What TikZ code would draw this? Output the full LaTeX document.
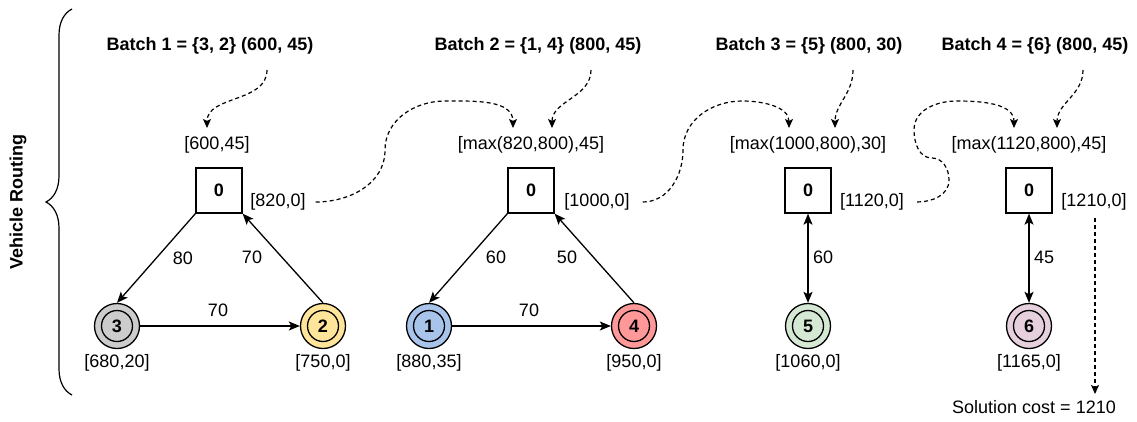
\documentclass[tikz,border=0pt]{standalone}
\usepackage{fontspec}
\setmainfont{Liberation Sans}
\usetikzlibrary{arrows.meta,decorations.pathreplacing}
\definecolor{cGray}{HTML}{CCCCCC}
\definecolor{cYellow}{HTML}{FFE599}
\definecolor{cBlue}{HTML}{A9C4EB}
\definecolor{cRed}{HTML}{FF9999}
\definecolor{cGreen}{HTML}{D5E8D4}
\definecolor{cPink}{HTML}{E6D0DE}
\tikzset{
  every node/.style={font=\fontsize{18}{21}\selectfont, inner sep=0pt},
  depot/.style={draw, line width=1.3pt, minimum width=46pt, minimum height=45pt, font=\fontsize{18}{21}\selectfont\bfseries},
  cust/.style={circle, draw, line width=1.3pt, minimum size=45pt, font=\fontsize{18}{21}\selectfont\bfseries,
    path picture={\draw[line width=1.3pt] (path picture bounding box.center) circle (15.5pt);}},
  batchlbl/.style={font=\fontsize{18}{21}\selectfont\bfseries},
  route/.style={line width=1.3pt, -{Stealth[length=11pt,width=9pt,inset=2.5pt]}},
  biroute/.style={line width=1.3pt, {Stealth[length=11pt,width=9pt,inset=2.5pt]}-{Stealth[length=11pt,width=9pt,inset=2.5pt]}},
  flow/.style={line width=1.2pt, dash pattern=on 4pt off 3pt, -{Stealth[length=9pt,width=8pt,inset=2pt]}},
}
\begin{document}
\begin{tikzpicture}[x=1pt,y=-1pt]
\useasboundingbox (0,0) rectangle (1137,421);

% brace and title
\draw[line width=1.2pt, decorate, decoration={brace, amplitude=26pt, aspect=0.5}] (72,395) -- (72,9);
\node[rotate=90, batchlbl] (title) at (18,202) {Vehicle Routing};

% batch labels
\node[batchlbl] (b1) at (210,46) {Batch 1 = \{3, 2\} (600, 45)};
\node[batchlbl] (b2) at (538,46) {Batch 2 = \{1, 4\} (800, 45)};
\node[batchlbl] (b3) at (809,46) {Batch 3 = \{5\} (800, 30)};
\node[batchlbl] (b4) at (1035,46) {Batch 4 = \{6\} (800, 45)};

% depot top labels
\node (t1) at (217,145) {[600,45]};
\node (t2) at (531,145) {[max(820,800),45]};
\node (t3) at (808,145) {[max(1000,800),30]};
\node (t4) at (1029,145) {[max(1120,800),45]};

% depots
\node[depot] (d1) at (219,190.5) {0};
\node[depot] (d2) at (531,190.5) {0};
\node[depot] (d3) at (808,190.5) {0};
\node[depot] (d4) at (1029,190.5) {0};

% depot right labels
\node (r1) at (278,202) {[820,0]};
\node (r2) at (597,202) {[1000,0]};
\node (r3) at (872,202) {[1120,0]};
\node (r4) at (1094,202) {[1210,0]};

% customers
\node[cust, fill=cGray] (n3) at (117,326) {3};
\node[cust, fill=cYellow] (n2) at (323,326) {2};
\node[cust, fill=cBlue] (n1) at (429,326) {1};
\node[cust, fill=cRed] (n4) at (634,326) {4};
\node[cust, fill=cGreen] (n5) at (808,326) {5};
\node[cust, fill=cPink] (n6) at (1029,326) {6};

% customer labels
\node (l3) at (117,363) {[680,20]};
\node (l2) at (323,363) {[750,0]};
\node (l1) at (429,363) {[880,35]};
\node (l4) at (634,363) {[950,0]};
\node (l5) at (808,363) {[1060,0]};
\node (l6) at (1029,363) {[1165,0]};

% routes
\draw[route] (d1.south west) -- (n3.north);
\draw[route] (n3.east) -- (n2.west);
\draw[route] (n2.north) -- (d1.south east);
\draw[route] (d2.south west) -- (n1.north);
\draw[route] (n1.east) -- (n4.west);
\draw[route] (n4.north) -- (d2.south east);
\draw[biroute] (d3.south) -- (n5.north);
\draw[biroute] (d4.south) -- (n6.north);

% route weights
\node (w1) at (183,258) {80};
\node (w2) at (252,257) {70};
\node (w3) at (218,310) {70};
\node (w4) at (496,257) {60};
\node (w5) at (567,257) {50};
\node (w6) at (529,310) {70};
\node (w7) at (823,257) {60};
\node (w8) at (1044,257) {45};

% batch flows
\coordinate (b1s) at (267,70);
\coordinate (b2s) at (591,70);
\coordinate (b3s) at (853,70);
\coordinate (b4s) at (1083,70);
\coordinate (t1a) at (207,128);
\coordinate (t2b) at (552,128);
\coordinate (t3b) at (835,128);
\coordinate (t4b) at (1057,128);
\coordinate (t2a) at (513,128);
\coordinate (t3a) at (789,128);
\coordinate (t4a) at (1014,128);
\draw[flow] (b1s) to[out=-90,in=90] (t1a);
\draw[flow] (b2s) to[out=-90,in=90] (t2b);
\draw[flow] (b3s) to[out=-90,in=90] (t3b);
\draw[flow] (b4s) to[out=-90,in=90] (t4b);

% carry-over flows
\draw[flow] (r1.east) ++(10,0) to[out=0,in=-90] (385,150) to[out=90,in=180] (445,101) to[out=0,in=90] (t2a);
\draw[flow] (r2.east) ++(13,0) to[out=0,in=-90] (683,150) to[out=90,in=180] (742,101) to[out=0,in=90] (t3a);
\draw[flow] (r3.east) ++(13,0) to[out=0,in=-90] (949,180) to[out=90,in=0] (932,158) to[out=180,in=-90] (914,130) to[out=90,in=180] (957,101) to[out=0,in=90] (t4a);

% solution
\node (sol) at (1034,407) {Solution cost = 1210};
\draw[flow] (1095,218) -- (1095,394);
\end{tikzpicture}
\end{document}
